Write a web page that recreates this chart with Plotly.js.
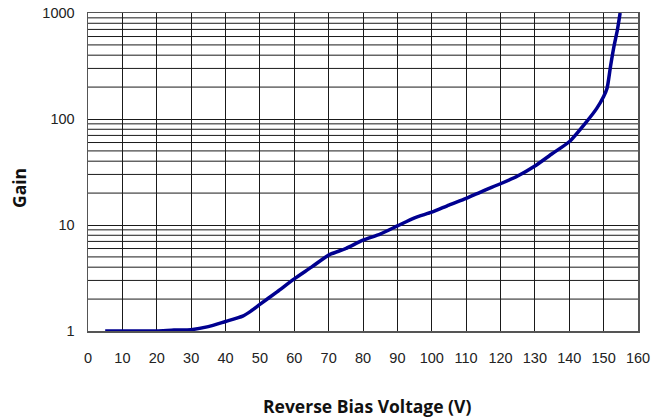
<!DOCTYPE html>
<html>
<head>
<meta charset="utf-8">
<script src="https://cdn.plot.ly/plotly-3.0.1.min.js"></script>
<style>html,body{margin:0;padding:0;background:#fff;}#chart{width:670px;height:419px;}</style>
</head>
<body>
<div id="chart"></div>
<script>
const voltage = [5, 10, 15, 20, 25, 30, 35, 40, 45, 47.5, 50, 55, 60, 65, 70, 75, 80, 85, 90, 95, 100, 105, 110, 115, 120, 125, 130, 135, 140, 145, 148, 150, 151, 152, 153, 154, 154.8];
const gain = [1.0, 1.0, 1.0, 1.0, 1.02, 1.03, 1.1, 1.23, 1.38, 1.55, 1.78, 2.34, 3.1, 4.0, 5.2, 6.0, 7.2, 8.2, 9.8, 11.7, 13.2, 15.4, 17.8, 21, 24.5, 29, 36, 47, 61, 94, 126, 163, 195, 313, 483, 692, 1000];
const xTicks = [0, 10, 20, 30, 40, 50, 60, 70, 80, 90, 100, 110, 120, 130, 140, 150, 160];
const yTickVals = [1, 10, 100, 1000];
const yTickText = ['1', '10', '100', '1000'];
const yGrid = [2,3,4,5,6,7,8,9,20,30,40,50,60,70,80,90,200,300,400,500,600,700,800,900];

const L = 88, R = 638, T = 13, B = 331;
const shapes = yGrid.map(v => ({
  type: 'line', xref: 'paper', x0: 0, x1: 1, yref: 'y', y0: v, y1: v,
  line: {color: '#1a1a1a', width: 1}, layer: 'below'
}));

const data = [{
  x: voltage, y: gain, type: 'scatter', mode: 'lines',
  line: {color: '#000090', width: 3.5, shape: 'spline', smoothing: 0.6},
  hoverinfo: 'skip'
}];

const layout = {
  width: 670, height: 419,
  margin: {l: L, r: 670 - R, t: T, b: 419 - B, pad: 0},
  paper_bgcolor: '#fff', plot_bgcolor: '#fff',
  showlegend: false,
  font: {family: 'Liberation Sans, Arial, sans-serif', size: 14, color: '#222'},
  xaxis: {
    range: [0, 160], tickvals: xTicks, ticks: '', showgrid: true,
    gridcolor: '#1a1a1a', gridwidth: 1, zeroline: false,
    showline: true, linecolor: '#555', linewidth: 1.5, mirror: true,
    ticklabelstandoff: 13, tickfont: {size: 14.5, color: '#222'}
  },
  yaxis: {
    type: 'log', range: [0, 3], tickvals: yTickVals, ticktext: yTickText, ticks: '',
    showgrid: true, gridcolor: '#1a1a1a', gridwidth: 1, zeroline: false,
    showline: true, linecolor: '#555', linewidth: 1.5, mirror: true,
    ticklabelstandoff: 9, tickfont: {size: 14.5, color: '#222'}
  },
  shapes: shapes,
  annotations: [
    {text: '<b>Reverse Bias Voltage (V)</b>', xref: 'paper', yref: 'paper',
     x: (367 - L) / (R - L), y: (B - 406) / (B - T), showarrow: false,
     xanchor: 'center', yanchor: 'middle',
     font: {family: 'Open Sans, sans-serif', size: 17.5, color: '#111'}},
    {text: '<b>Gain</b>', xref: 'paper', yref: 'paper', textangle: -90,
     x: (19 - L) / (R - L), y: (B - 188) / (B - T), showarrow: false,
     xanchor: 'center', yanchor: 'middle',
     font: {family: 'Open Sans, sans-serif', size: 17.5, color: '#111'}}
  ]
};

Plotly.newPlot('chart', data, layout, {displayModeBar: false, staticPlot: true});
</script>
</body>
</html>
